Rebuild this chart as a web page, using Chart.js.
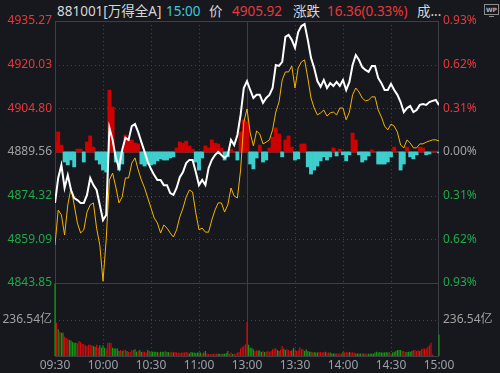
<!DOCTYPE html>
<html>
<head>
<meta charset="utf-8">
<script src="https://cdn.jsdelivr.net/npm/chart.js@4.4.1/dist/chart.umd.min.js"></script>
<style>
  body { margin: 0; background: #16181d; width: 500px; height: 373px; overflow: hidden; position: relative;
         font-family: 'Noto Sans', 'Noto Sans CJK SC', sans-serif; }
  canvas { position: absolute; left: 0; top: 0; }
  #title span { position: absolute; top: 2px; font-size: 13.5px; line-height: 18px; white-space: nowrap; color: #d6d6d6; }
  #title .red { color: #e8383a; }
  #title .cyan { color: #3cc8dc; }
  #wp { position: absolute; left: 484px; top: 4px; width: 13px; height: 9px; border: 1px solid #8c8c8c;
        font: bold 6px/9px 'DejaVu Sans', sans-serif; color: #b0b0b0; text-align: center; }
  #wp:after { content: ''; position: absolute; left: 4px; top: 11px; width: 5px; height: 1px; background: #8c8c8c; }
</style>
</head>
<body>
<div id="title">
  <span style="left:57px">881001[万得全A]</span>
  <span class="cyan" style="left:166px">15:00</span>
  <span style="left:209px">价</span>
  <span class="red" style="left:232px">4905.92</span>
  <span style="left:293px">涨跌</span>
  <span class="red" style="left:327px">16.36(0.33%)</span>
  <span style="left:417px">成...</span>
</div>
<div id="wp">WP</div>
<canvas id="priceChart" width="500" height="373"></canvas>
<canvas id="volChart" width="500" height="373"></canvas>
<script>
// previous close / axis ticks
const prevClose = 4889.56;
const priceTicks = [4935.27, 4920.03, 4904.80, 4889.56, 4874.32, 4859.09, 4843.85];
const pctLabels = ['0.93%', '0.62%', '0.31%', '0.00%', '0.31%', '0.62%', '0.93%'];
const volMax = 473.08;
const volTicks = [236.54];
const timeTicks = [0, 30, 60, 90, 120, 150, 180, 210, 240];
const timeLabels = ['09:30', '10:00', '10:30', '11:00', '13:00', '13:30', '14:00', '14:30', '15:00'];

// minute index of every 2-min sample (09:30 = 0, 15:00 = 240)
const sampleMinutes = Array.from({ length: 121 }, (_, i) => i * 2);
const volMinutes = Array.from({ length: 241 }, (_, i) => i);

// 万得全A price, every 2 minutes
const indexPrice = [
  4871.8, 4880.5, 4885.0, 4877.0, 4881.5, 4876.3, 4873.5, 4872.8, 4871.8, 4871.8,
  4874.6, 4880.5, 4878.0, 4876.3, 4871.1, 4865.8, 4867.6, 4898.0, 4893.8, 4887.5,
  4884.0, 4890.3, 4894.5, 4893.8, 4898.6, 4899.3, 4896.5, 4893.0, 4889.6, 4886.1,
  4883.6,
  4881.5, 4879.8, 4879.8, 4878.0, 4878.0, 4875.2, 4874.6, 4877.0, 4880.8, 4882.6,
  4885.7, 4886.8, 4886.8, 4882.6, 4878.0, 4879.8, 4878.0, 4884.0, 4886.8, 4888.5,
  4889.6, 4888.5, 4887.5, 4888.5, 4893.8, 4892.0, 4895.5, 4902.5, 4911.9, 4914.3,
  4911.2, 4908.4, 4909.5, 4909.5, 4906.7, 4908.4, 4909.5, 4911.9, 4919.9, 4919.6,
  4921.0, 4929.7, 4930.4, 4928.7, 4925.9, 4931.4, 4933.5, 4934.2, 4928.7, 4922.4,
  4918.9, 4914.3, 4912.3, 4914.7, 4911.9, 4913.6, 4912.6, 4914.0, 4912.6, 4914.7,
  4911.2, 4914.0, 4919.9, 4923.4, 4921.7, 4919.2, 4918.2, 4917.5, 4919.6, 4919.6,
  4915.4, 4913.6, 4911.2, 4911.2, 4913.3, 4911.2, 4909.5, 4907.0, 4903.5, 4904.9,
  4905.6, 4903.5, 4904.2, 4906.0, 4906.3, 4906.0, 4907.0, 4907.4, 4907.7, 4905.92
];

// equal-weight line (yellow), every 2 minutes
const avgPrice = [
  4857.1, 4869.3, 4867.6, 4860.6, 4871.1, 4877.0, 4871.1, 4864.8, 4861.3, 4862.4,
  4868.6, 4871.1, 4871.8, 4863.0, 4857.1, 4844.5, 4858.9, 4879.8, 4882.2, 4877.3,
  4871.8, 4873.9, 4880.5, 4880.5, 4885.7, 4887.5, 4883.3, 4879.8, 4877.0, 4873.5,
  4870.0,
  4866.5, 4864.8, 4861.3, 4864.1, 4863.0, 4861.3, 4859.9, 4862.4, 4866.9, 4870.0,
  4873.9, 4876.3, 4875.6, 4868.3, 4862.4, 4863.0, 4861.6, 4861.6, 4865.8, 4869.3,
  4871.8, 4871.8, 4868.6, 4871.1, 4877.0, 4874.2, 4873.5, 4883.3, 4900.0, 4904.6,
  4896.2, 4891.7, 4896.9, 4895.8, 4892.4, 4893.0, 4893.8, 4897.3, 4903.5, 4907.0,
  4914.7, 4917.5, 4917.5, 4919.6, 4911.9, 4918.9, 4921.0, 4921.7, 4915.4, 4908.4,
  4904.9, 4902.5, 4903.2, 4904.2, 4902.1, 4903.2, 4903.5, 4902.5, 4904.9, 4904.9,
  4900.8, 4903.5, 4909.5, 4911.9, 4910.5, 4908.4, 4907.4, 4907.7, 4908.8, 4908.8,
  4904.2, 4901.8, 4898.6, 4897.3, 4899.3, 4898.6, 4896.5, 4892.0, 4891.0, 4893.8,
  4892.7, 4891.0, 4891.0, 4892.4, 4892.4, 4893.0, 4893.4, 4893.8, 4893.8, 4893.4
];

// red / cyan strength bars, offset from prevClose, every 2 minutes
const strength = [
  3.5, 7.0, 2.4, -3.5, -4.5, -2.8, -5.2, 1.0, 1.0, -3.5,
  3.5, 5.6, 1.7, -2.8, -4.2, -6.3, -7.0, 21.6, 15.7, -3.5,
  -6.3, -4.2, 5.9, 4.2, 4.2, 3.1, 2.8, -4.2, -4.9, -4.2,
  -4.5,
  -4.2, -3.1, -2.4, -2.8, -2.8, -2.1, -1.7, 1.4, 3.5, 3.1,
  3.8, 2.1, 1.0, -3.5, -6.3, -2.1, 2.1, 1.4, 4.2, 3.1,
  2.8, 1.4, -2.8, -1.7, 1.0, 0, -2.8, 7.0, 11.2, 10.5,
  -4.2, -5.9, -2.1, 2.4, -3.5, -2.8, 1.4, 5.2, 8.4, 6.3,
  -1.7, 4.2, 5.6, 1.7, -2.8, -2.4, 2.8, 2.8, -5.2, -7.7,
  -6.3, -4.9, -3.1, -1.7, -2.8, -1.7, 1.4, -1.4, 1.0, -1.0,
  -3.1, -1.0, 6.6, 4.2, -1.0, -3.5, -2.8, -1.4, 0.7, 0,
  -4.2, -4.2, -4.2, -3.5, -1.7, 1.7, 0, -6.3, -4.2, 1.7,
  -1.7, -2.4, -1.0, 1.7, 1.4, -1.0, -0.7, 0.3, 0.3, -0.3
];

// turnover per minute (亿)
const volume = [
  470, 216, 173, 156, 151, 151, 125, 119, 112, 104,
  100, 90, 86, 86, 82, 97, 91, 80, 76, 70,
  65, 73, 73, 70, 65, 60, 73, 54, 69, 54,
  69, 54, 48, 86, 86, 86, 54, 48, 48, 48,
  32, 39, 32, 39, 39, 32, 26, 26, 39, 39,
  43, 28, 32, 39, 26, 28, 28, 22, 39, 32,
  28, 28, 28, 28, 26, 22, 28, 28, 28, 32,
  26, 26, 22, 28, 22, 26, 22, 22, 20, 22,
  22, 22, 26, 22, 17, 26, 22, 22, 20, 22,
  22, 22, 17, 22, 32, 17, 13, 13, 13, 15,
  15, 15, 15, 15, 13, 15, 15, 20, 32, 15,
  22, 13, 15, 15, 22, 26, 48, 60, 65, 76,
  220, 73, 54, 54, 43, 32, 35, 35, 35, 26,
  32, 26, 28, 32, 26, 32, 43, 48, 50, 39,
  32, 43, 65, 48, 39, 43, 39, 32, 37, 54,
  43, 32, 37, 58, 45, 43, 32, 43, 32, 28,
  28, 22, 26, 22, 22, 26, 26, 22, 26, 28,
  22, 22, 22, 17, 17, 17, 17, 17, 17, 17,
  26, 22, 28, 22, 26, 22, 22, 22, 17, 17,
  17, 17, 17, 17, 15, 15, 15, 15, 17, 15,
  22, 28, 22, 26, 22, 22, 22, 26, 22, 26,
  17, 22, 26, 32, 39, 39, 39, 32, 32, 26,
  26, 28, 28, 32, 39, 39, 32, 37, 32, 43,
  48, 48, 48, 60, 69, 86, 10, 0, 0, 0,
  140
];
// R = up minute, G = down minute
const volDir = ('GRGRGGRRRG' + 'GGGGRRRRRR' + 'RRRRGGRRGG' + 'GGRRRRGGGG' + 'GRGRRGRRRR' +
  'GGRGGRRRGR' + 'GGGGGRGGGR' + 'GGRRGRRRRR' + 'RRRRGGGGGG' + 'GGRGGRRRRR' +
  'RRGGRGGGGR' + 'RGRRRRRRRR' + 'RGGGGRRGGG' + 'RGRRRRRRRG' + 'GRRGGRRRGG' +
  'RRRRRRGGGG' + 'GRGGGRRRRG' + 'RRGGGGRRRR' + 'GRRRGRRRGG' + 'GGRGRRGGGG' +
  'GGGGGGGGGR' + 'RGGGGGGRRR' + 'GGGGRRRRGR' + 'RRRRRRRRRR' + 'G').split('');

const RED = '#e8383a', GREEN = '#1fa84a', GREY = '#a0a0a0';
const gridMinutes = [30, 60, 90, 150, 180, 210];

Chart.defaults.font.family = "'Noto Sans', 'Noto Sans CJK SC', sans-serif";
Chart.defaults.font.size = 12;

// dotted grid, panel border, lunch divider
const panelGrid = {
  id: 'panelGrid',
  beforeDatasetsDraw(chart, args, opts) {
    const { ctx, chartArea: a } = chart;
    const xs = chart.scales.x, ys = chart.scales.y;
    const px = v => Math.round(xs.getPixelForValue(v)) + 0.5;
    const py = v => Math.round(ys.getPixelForValue(v)) + 0.5;
    ctx.save();
    ctx.lineWidth = 1;
    ctx.strokeStyle = '#41444c';
    ctx.setLineDash([1, 3]);
    ctx.beginPath();
    gridMinutes.forEach(m => { ctx.moveTo(px(m), a.top); ctx.lineTo(px(m), a.bottom); });
    opts.levels.forEach(v => { ctx.moveTo(a.left, py(v)); ctx.lineTo(a.right, py(v)); });
    ctx.stroke();
    ctx.setLineDash([]);
    ctx.strokeStyle = '#3c3f46';
    ctx.beginPath();
    ctx.moveTo(px(120), a.top); ctx.lineTo(px(120), a.bottom);
    ctx.stroke();
    ctx.strokeRect(Math.round(a.left) + 0.5, Math.round(a.top) + 0.5,
                   Math.round(a.right - a.left) - 1, Math.round(a.bottom - a.top));
    if (opts.base != null) {
      const y = Math.round(ys.getPixelForValue(opts.base));
      ctx.lineWidth = 2;
      ctx.beginPath(); ctx.moveTo(a.left, y); ctx.lineTo(a.right, y); ctx.stroke();
    }
    ctx.restore();
  }
};

const sideColor = v => Math.abs(v - prevClose) < 0.01 ? GREY : (v > prevClose ? RED : GREEN);

new Chart(document.getElementById('priceChart'), {
  type: 'line',
  data: {
    datasets: [
      {
        type: 'line', label: '万得全A',
        data: sampleMinutes.map((m, i) => ({ x: m, y: indexPrice[i] })),
        borderColor: '#ffffff', borderWidth: 2, pointRadius: 0, tension: 0, order: 0
      },
      {
        type: 'line', label: '均价',
        data: sampleMinutes.map((m, i) => ({ x: m, y: avgPrice[i] })),
        borderColor: '#f5b400', borderWidth: 1, pointRadius: 0, tension: 0, order: 1
      },
      {
        type: 'bar', label: '强弱',
        data: sampleMinutes.map((m, i) => ({ x: m, y: [prevClose, prevClose + strength[i]] })),
        backgroundColor: strength.map(v => v >= 0 ? '#cf0000' : '#3ecece'),
        barPercentage: 1, categoryPercentage: 1, order: 2
      }
    ]
  },
  options: {
    responsive: false, animation: false,
    layout: { padding: { top: 21, bottom: 90, left: 0, right: 0 } },
    plugins: {
      legend: { display: false }, tooltip: { enabled: false },
      panelGrid: { levels: [4920.03, 4904.80, 4874.32, 4859.09], base: prevClose }
    },
    scales: {
      x: { type: 'linear', min: 0, max: 240, offset: false, display: false },
      y: {
        position: 'left', min: priceTicks[6], max: priceTicks[0],
        afterBuildTicks: s => { s.ticks = priceTicks.map(v => ({ value: v })); },
        afterFit: s => { s.width = 55; },
        grid: { display: false, drawTicks: false }, border: { display: false },
        ticks: { padding: 3, autoSkip: false, color: c => sideColor(c.tick.value),
                 callback: v => v.toFixed(2) }
      },
      yr: {
        position: 'right', min: priceTicks[6], max: priceTicks[0],
        afterBuildTicks: s => { s.ticks = priceTicks.map(v => ({ value: v })); },
        afterFit: s => { s.width = 61; },
        grid: { display: false, drawTicks: false }, border: { display: false },
        ticks: { padding: 4, autoSkip: false, color: c => sideColor(c.tick.value),
                 callback: (v, i) => pctLabels[i] }
      }
    }
  },
  plugins: [panelGrid]
});

new Chart(document.getElementById('volChart'), {
  type: 'bar',
  data: {
    datasets: [{
      label: '成交额',
      data: volMinutes.map((m, i) => ({ x: m, y: volume[i] })),
      backgroundColor: volDir.map(d => d === 'R' ? '#dc0b0b' : '#12a012'),
      barPercentage: 0.7, categoryPercentage: 1, clip: false
    }]
  },
  options: {
    responsive: false, animation: false,
    layout: { padding: { top: 283, bottom: 0, left: 0, right: 0 } },
    plugins: {
      legend: { display: false }, tooltip: { enabled: false },
      panelGrid: { levels: volTicks }
    },
    scales: {
      x: {
        type: 'linear', min: 0, max: 240, offset: false,
        afterBuildTicks: s => { s.ticks = timeTicks.map(v => ({ value: v })); },
        afterFit: s => { s.height = 17; },
        grid: { display: false, drawTicks: false }, border: { display: false },
        ticks: { padding: 2, autoSkip: false, maxRotation: 0, minRotation: 0, color: '#9aa0a8',
                 callback: (v, i) => timeLabels[i] }
      },
      y: {
        position: 'left', min: 0, max: volMax,
        afterBuildTicks: s => { s.ticks = volTicks.map(v => ({ value: v })); },
        afterFit: s => { s.width = 55; },
        grid: { display: false, drawTicks: false }, border: { display: false },
        ticks: { padding: 3, color: GREY, callback: v => v.toFixed(2) + '亿' }
      },
      yr: {
        position: 'right', min: 0, max: volMax,
        afterBuildTicks: s => { s.ticks = volTicks.map(v => ({ value: v })); },
        afterFit: s => { s.width = 61; },
        grid: { display: false, drawTicks: false }, border: { display: false },
        ticks: { padding: 4, color: GREY, callback: v => v.toFixed(2) + '亿' }
      }
    }
  },
  plugins: [panelGrid]
});
</script>
</body>
</html>
